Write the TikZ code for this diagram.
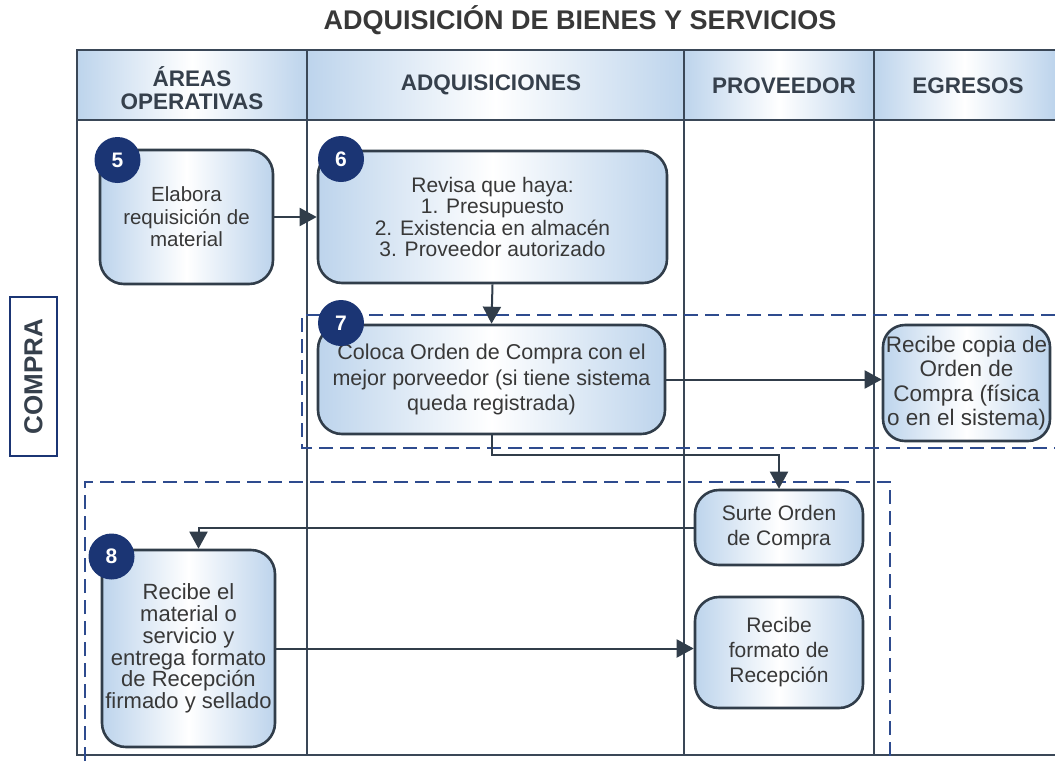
\documentclass[tikz,border=0pt]{standalone}
\usepackage{fontspec}
\setmainfont{Liberation Sans}
\usetikzlibrary{arrows.meta,calc}
\definecolor{txt}{HTML}{383838}
\definecolor{htxt}{HTML}{36404C}
\definecolor{edge}{HTML}{313D4A}
\definecolor{lane}{HTML}{3A4757}
\definecolor{navy}{HTML}{1B3574}
\definecolor{dashc}{HTML}{2E4B8E}
\definecolor{lblue}{HTML}{BDD4EC}
\begin{document}
\begin{tikzpicture}[x=1pt,y=-1pt,
  box/.style={draw=edge, line width=2.6pt, rounded corners=24pt, left color=lblue, right color=lblue, middle color=white, text=txt, align=center, inner sep=1pt, font=\fontsize{21}{24}\selectfont},
  badge/.style={circle, fill=navy, text=white, inner sep=0pt, minimum size=46pt, font=\bfseries\fontsize{21}{21}\selectfont},
  conn/.style={draw=edge, line width=2pt, -{Triangle[length=17pt,width=18pt]}},
  lanel/.style={draw=lane, line width=1.5pt},
  dashbox/.style={draw=dashc, line width=1.6pt, dash pattern=on 14pt off 7pt},
  head/.style={text=htxt, align=center, font=\bfseries\fontsize{22.5}{23}\selectfont},
  hfill/.style={left color=lblue, right color=lblue, middle color=white}
]
\useasboundingbox (0,0) rectangle (1055,761);
% title
\node[text=txt, font=\bfseries\fontsize{27}{27}\selectfont] (title) at (580,20) {ADQUISICIÓN DE BIENES Y SERVICIOS};
% header fills
\fill[hfill] (77,50) rectangle (307,120);
\fill[hfill] (307,50) rectangle (684,120);
\fill[hfill] (684,50) rectangle (874,120);
\fill[hfill] (874,50) rectangle (1055,120);
% lanes
\draw[lanel] (1055,50) -- (77,50) -- (77,755) -- (1055,755);
\draw[lanel] (77,120) -- (1055,120);
\draw[lanel] (307,50) -- (307,755);
\draw[lanel] (684,50) -- (684,755);
\draw[lanel] (874,50) -- (874,755);
% headers
\node[head] (h1) at (192,88) {ÁREAS\\OPERATIVAS};
\node[head] (h2) at (491,85) {ADQUISICIONES};
\node[head] (h3) at (784,86) {PROVEEDOR};
\node[head] (h4) at (968,86) {EGRESOS};
% side label
\node[draw=navy, line width=2.6pt, rotate=90, minimum width=159pt, minimum height=47pt, inner sep=0pt, text=htxt, font=\bfseries\fontsize{26}{26}\selectfont] (compra) at (33.5,376.5) {COMPRA};
% dashed groups
\draw[dashbox] (1055,315) -- (302,315) -- (302,448) -- (1055,448);
\draw[dashbox] (85,761) -- (85,482) -- (890,482) -- (890,761);
% boxes
\node[box, minimum width=173pt, minimum height=134pt, font=\fontsize{20.5}{22.5}\selectfont] (b5) at (186.5,217) {Elabora\\requisición de\\material};
\node[box, minimum width=349pt, minimum height=132pt, font=\fontsize{21}{21.5}\selectfont] (b6) at (492.5,217) {Revisa que haya:\\1. Presupuesto\\2. Existencia en almacén\\3. Proveedor autorizado};
\node[box, minimum width=347pt, minimum height=109pt, font=\fontsize{21.5}{25.5}\selectfont] (b7) at (491.5,379.5) {Coloca Orden de Compra con el\\mejor porveedor (si tiene sistema\\queda registrada)};
\node[box, minimum width=167pt, minimum height=116pt, rounded corners=22pt, inner sep=0pt, font=\fontsize{22.5}{24.5}\selectfont] (eg) at (966.5,383) {Recibe copia de\\Orden de\\Compra (física\\o en el sistema)};
\node[box, minimum width=168pt, minimum height=75pt, font=\fontsize{21}{25}\selectfont] (su) at (779,527.5) {Surte Orden\\de Compra};
\node[box, minimum width=168pt, minimum height=111pt, font=\fontsize{21}{25}\selectfont] (rf) at (779,652.5) {Recibe\\formato de\\Recepción};
\node[box, minimum width=173pt, minimum height=197pt, inner sep=0pt, font=\fontsize{22}{21.7}\selectfont] (b8) at (188.5,648.5) {Recibe el\\material o\\servicio y\\entrega formato\\de Recepción\\firmado y sellado};
% connectors
\draw[conn] (b5.east) -- (b6.west);
\draw[conn] (b6.south) -- (b7.north);
\draw[conn] (b7.east) -- (b7.east -| eg.west);
\draw[conn] (b7.south) -- ($(b7.south)+(0,20)$) -| (su.north);
\draw[conn] (su.west) -| ([xshift=10pt]b8.north);
\draw[conn] (b8.east) -- (b8.east -| rf.west);
% badges
\node[badge] (n5) at (117.5,160) {5};
\node[badge] (n6) at (341,159) {6};
\node[badge] (n7) at (341,323) {7};
\node[badge] (n8) at (111.5,556.5) {8};
\end{tikzpicture}
\end{document}
